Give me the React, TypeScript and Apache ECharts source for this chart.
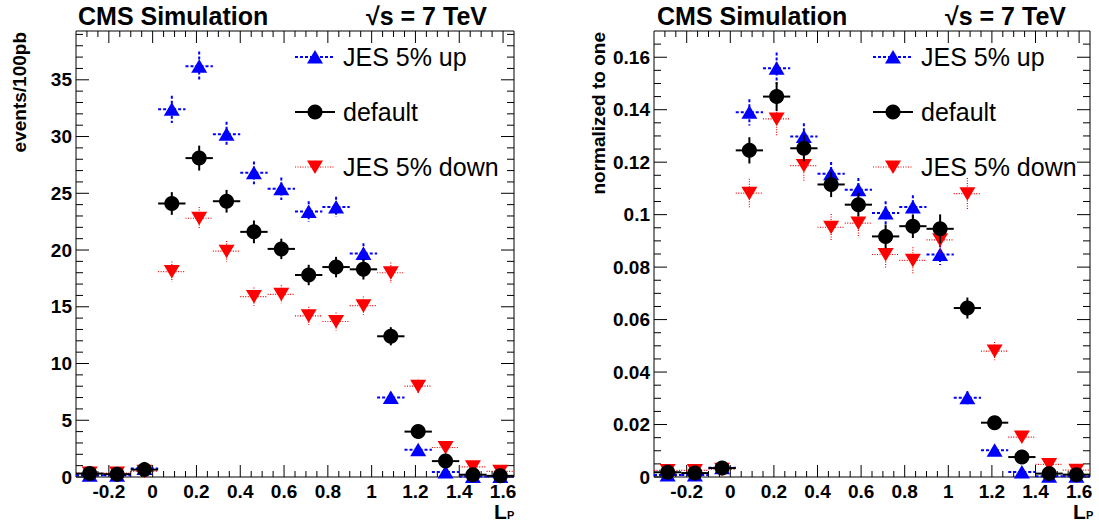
import React, { useEffect, useRef } from "react";
import * as echarts from "echarts";

// ---------- data ----------
const binCenters = [-0.2875, -0.1625, -0.0375, 0.0875, 0.2125, 0.3375, 0.4625, 0.5875, 0.7125, 0.8375, 0.9625, 1.0875, 1.2125, 1.3375, 1.4625, 1.5875];
const binHalfWidth = 0.0625;

// left panel: events / 100 pb
const eventsUp = [0.15, 0.15, 0.75, 32.4, 36.2, 30.2, 26.8, 25.4, 23.4, 23.8, 19.7, 7.0, 2.4, 0.45, 0.05, 0.05];
const eventsUpErr = [0.1, 0.1, 0.3, 1.2, 1.3, 1.1, 1.0, 1.0, 0.9, 0.9, 0.9, 0.5, 0.3, 0.2, 0.05, 0.05];
const eventsDefault = [0.3, 0.25, 0.65, 24.1, 28.1, 24.3, 21.6, 20.1, 17.8, 18.5, 18.3, 12.4, 4.0, 1.4, 0.2, 0.1];
const eventsDefaultErr = [0.2, 0.2, 0.3, 1.0, 1.1, 1.0, 1.0, 0.9, 0.9, 0.9, 0.9, 0.8, 0.4, 0.3, 0.1, 0.1];
const eventsDown = [0.35, 0.35, 0.5, 18.1, 22.8, 19.9, 15.9, 16.1, 14.2, 13.7, 15.1, 18.0, 8.0, 2.6, 0.9, 0.5];
const eventsDownErr = [0.1, 0.1, 0.2, 0.9, 1.0, 0.9, 0.8, 0.8, 0.8, 0.8, 0.8, 0.9, 0.6, 0.3, 0.2, 0.2];

// right panel: normalized to one
const normUp = [0.0008, 0.0008, 0.0035, 0.139, 0.1558, 0.1298, 0.1156, 0.1095, 0.1006, 0.1029, 0.0848, 0.0302, 0.0102, 0.0019, 0.0003, 0.0003];
const normUpErr = [0.0005, 0.0005, 0.001, 0.005, 0.006, 0.005, 0.0045, 0.0045, 0.0045, 0.0045, 0.004, 0.0025, 0.0015, 0.001, 0.0003, 0.0003];
const normDefault = [0.0018, 0.0015, 0.0034, 0.1245, 0.145, 0.1253, 0.1115, 0.1038, 0.0917, 0.0956, 0.0946, 0.0644, 0.0207, 0.0076, 0.0013, 0.0009];
const normDefaultErr = [0.001, 0.001, 0.0015, 0.005, 0.0055, 0.005, 0.0048, 0.0045, 0.0045, 0.0045, 0.0055, 0.004, 0.002, 0.0015, 0.0005, 0.0005];
const normDown = [0.0025, 0.0025, 0.003, 0.1082, 0.1365, 0.1187, 0.0952, 0.0968, 0.0848, 0.0826, 0.0904, 0.108, 0.048, 0.0152, 0.0048, 0.0026];
const normDownErr = [0.001, 0.001, 0.001, 0.0055, 0.0065, 0.006, 0.005, 0.005, 0.005, 0.005, 0.005, 0.006, 0.0035, 0.0015, 0.001, 0.001];

// axes
const xRange = [-0.35, 1.65];
const xTickLabels = ["-0.2", "0", "0.2", "0.4", "0.6", "0.8", "1", "1.2", "1.4", "1.6"];
const xMinorStep = 0.05;
const eventsYRange = [0, 39.3];
const eventsYTickLabels = ["0", "5", "10", "15", "20", "25", "30", "35"];
const eventsYMinorStep = 1;
const normYRange = [0, 0.17];
const normYTickLabels = ["0", "0.02", "0.04", "0.06", "0.08", "0.1", "0.12", "0.14", "0.16"];
const normYMinorStep = 0.005;

const legendLabels = ["JES 5% up", "default", "JES 5% down"];
const yTitles = ["events/100pb", "normalized to one"];

// ---------- styles ----------
const FONT = '"Liberation Sans", Arial, Helvetica, sans-serif';
const STYLES: any = {
  up: { color: "#0000ff", line: { stroke: "#0000ff", lineWidth: 2, lineDash: [3, 2] }, marker: "up" },
  def: { color: "#000000", line: { stroke: "#000000", lineWidth: 2 }, marker: "circle" },
  down: { color: "#ff0000", line: { stroke: "#ff0000", lineWidth: 1.2, lineDash: [1, 1.5] }, marker: "down" },
};

function markerShape(kind: string, cx: number, cy: number, color: string) {
  if (kind === "circle") {
    return { type: "circle", shape: { cx, cy, r: 7.5 }, style: { fill: color } };
  }
  const pts =
    kind === "up"
      ? [[cx - 8, cy + 6.5], [cx + 8, cy + 6.5], [cx, cy - 7]]
      : [[cx - 8, cy - 6.5], [cx + 8, cy - 6.5], [cx, cy + 7]];
  return { type: "polygon", shape: { points: pts }, style: { fill: color } };
}

function pointsSeries(gi: number, values: number[], errs: number[], styleKey: string, yRange: number[]) {
  const st = STYLES[styleKey];
  return {
    type: "custom",
    xAxisIndex: gi,
    yAxisIndex: gi,
    data: binCenters.map((x, i) => [x, values[i], errs[i]]),
    renderItem: (_p: any, api: any) => {
      const x = api.value(0);
      const y = api.value(1);
      const e = api.value(2);
      const lo = Math.max(y - e, yRange[0]);
      const hi = Math.min(y + e, yRange[1]);
      const c = api.coord([x, y]);
      const l = api.coord([Math.max(x - binHalfWidth, xRange[0]), y]);
      const r = api.coord([Math.min(x + binHalfWidth, xRange[1]), y]);
      const t = api.coord([x, hi]);
      const b = api.coord([x, lo]);
      return {
        type: "group",
        children: [
          { type: "line", shape: { x1: l[0], y1: l[1], x2: r[0], y2: r[1] }, style: { ...st.line, fill: null } },
          { type: "line", shape: { x1: t[0], y1: t[1], x2: b[0], y2: b[1] }, style: { ...st.line, fill: null } },
          markerShape(st.marker, c[0], c[1], st.color),
        ],
      };
    },
    z: 3,
  };
}

function axisSeries(gi: number, yRange: number[], yLabels: string[], yMinorStep: number) {
  return {
    type: "custom",
    xAxisIndex: gi,
    yAxisIndex: gi,
    data: [[0, 0]],
    z: 2,
    renderItem: (_p: any, api: any) => {
      const children: any[] = [];
      const tickStyle = { stroke: "#000", lineWidth: 1 };
      const lab = { font: `bold 19px ${FONT}`, fill: "#000" };
      const xMajors = xTickLabels.map(Number);
      const xMinors: number[] = [];
      for (let v = Math.ceil(xRange[0] / xMinorStep) * xMinorStep; v <= xRange[1] + 1e-9; v += xMinorStep) {
        const rv = Math.round(v * 1000) / 1000;
        if (rv <= xRange[0] || rv >= xRange[1]) continue;
        if (!xMajors.some((m) => Math.abs(m - rv) < 1e-6)) xMinors.push(rv);
      }
      const addX = (v: number, len: number) => {
        const b = api.coord([v, yRange[0]]);
        const t = api.coord([v, yRange[1]]);
        children.push({ type: "line", shape: { x1: b[0], y1: b[1], x2: b[0], y2: b[1] - len }, style: tickStyle });
        children.push({ type: "line", shape: { x1: t[0], y1: t[1], x2: t[0], y2: t[1] + len }, style: tickStyle });
      };
      xMajors.forEach((v) => addX(v, 12));
      xMinors.forEach((v) => addX(v, 6));
      xTickLabels.forEach((s) => {
        const p = api.coord([Number(s), yRange[0]]);
        children.push({ type: "text", x: p[0], y: p[1] + 5, style: { ...lab, text: s, textAlign: "center", textVerticalAlign: "top" } });
      });
      const yMajors = yLabels.map(Number);
      const addY = (v: number, len: number) => {
        const l = api.coord([xRange[0], v]);
        const r = api.coord([xRange[1], v]);
        children.push({ type: "line", shape: { x1: l[0], y1: l[1], x2: l[0] + len, y2: l[1] }, style: tickStyle });
        children.push({ type: "line", shape: { x1: r[0], y1: r[1], x2: r[0] - len, y2: r[1] }, style: tickStyle });
      };
      yMajors.forEach((v) => addY(v, 13));
      for (let k = 1; k * yMinorStep < yRange[1]; k++) {
        const v = Math.round(k * yMinorStep * 1e6) / 1e6;
        if (!yMajors.some((m) => Math.abs(m - v) < 1e-9)) addY(v, 7);
      }
      yLabels.forEach((s) => {
        const p = api.coord([xRange[0], Number(s)]);
        children.push({ type: "text", x: p[0] - 4, y: p[1], style: { ...lab, text: s, textAlign: "right", textVerticalAlign: "middle" } });
      });
      return { type: "group", children };
    },
  };
}

function legendGraphics(x0: number) {
  const ys = [57, 112, 167];
  const keys = ["up", "def", "down"];
  const out: any[] = [];
  keys.forEach((k, i) => {
    const st = STYLES[k];
    out.push({ type: "line", shape: { x1: x0, y1: ys[i], x2: x0 + 40, y2: ys[i] }, style: { ...st.line, fill: null }, z: 10 });
    out.push({ ...markerShape(st.marker, x0 + 20, ys[i], st.color), z: 11 });
    out.push({
      type: "text",
      x: x0 + 48,
      y: ys[i],
      style: { text: legendLabels[i], font: `25px ${FONT}`, fill: "#000", textAlign: "left", textVerticalAlign: "middle" },
      z: 11,
    });
  });
  return out;
}

function headerGraphics(titleStart: number, sqrtX: number, yTitleX: number, yTitle: string, lpX: number) {
  return [
    { type: "text", x: titleStart, y: 16, style: { text: "CMS Simulation", font: `bold 25px ${FONT}`, fill: "#000", textAlign: "left", textVerticalAlign: "middle" } },
    { type: "text", x: sqrtX, y: 16, style: { text: "√s = 7 TeV", font: `bold 25px ${FONT}`, fill: "#000", textAlign: "left", textVerticalAlign: "middle" } },
    { type: "text", x: yTitleX, y: 32, rotation: Math.PI / 2, style: { text: yTitle, font: `bold 19px ${FONT}`, fill: "#000", textAlign: "right", textVerticalAlign: "middle" } },
    { type: "text", x: lpX, y: 501, style: { text: "L", font: `bold 21px ${FONT}`, fill: "#000", textAlign: "left", textVerticalAlign: "top" } },
    { type: "text", x: lpX + 13, y: 509, style: { text: "P", font: `bold 11px ${FONT}`, fill: "#000", textAlign: "left", textVerticalAlign: "top" } },
  ];
}

export default function App() {
  const ref = useRef<HTMLDivElement>(null);
  useEffect(() => {
    if (!ref.current) return;
    const chart = echarts.init(ref.current, undefined, { renderer: "svg" });
    const hiddenAxis = { axisLine: { show: false }, axisTick: { show: false }, axisLabel: { show: false }, splitLine: { show: false } };
    chart.setOption({
      animation: false,
      backgroundColor: "#ffffff",
      grid: [
        { left: 76, top: 31, width: 438, height: 446, show: true, borderColor: "#000", borderWidth: 1, backgroundColor: "transparent" },
        { left: 654, top: 31, width: 436, height: 446, show: true, borderColor: "#000", borderWidth: 1, backgroundColor: "transparent" },
      ],
      xAxis: [
        { type: "value", gridIndex: 0, min: xRange[0], max: xRange[1], ...hiddenAxis },
        { type: "value", gridIndex: 1, min: xRange[0], max: xRange[1], ...hiddenAxis },
      ],
      yAxis: [
        { type: "value", gridIndex: 0, min: eventsYRange[0], max: eventsYRange[1], ...hiddenAxis },
        { type: "value", gridIndex: 1, min: normYRange[0], max: normYRange[1], ...hiddenAxis },
      ],
      graphic: [
        ...headerGraphics(78, 366, 19, yTitles[0], 494),
        ...headerGraphics(657, 945, 598, yTitles[1], 1073),
        ...legendGraphics(295),
        ...legendGraphics(873),
      ],
      series: [
        axisSeries(0, eventsYRange, eventsYTickLabels, eventsYMinorStep),
        axisSeries(1, normYRange, normYTickLabels, normYMinorStep),
        pointsSeries(0, eventsUp, eventsUpErr, "up", eventsYRange),
        pointsSeries(0, eventsDown, eventsDownErr, "down", eventsYRange),
        pointsSeries(0, eventsDefault, eventsDefaultErr, "def", eventsYRange),
        pointsSeries(1, normUp, normUpErr, "up", normYRange),
        pointsSeries(1, normDown, normDownErr, "down", normYRange),
        pointsSeries(1, normDefault, normDefaultErr, "def", normYRange),
      ],
    });
    return () => chart.dispose();
  }, []);
  return <div ref={ref} style={{ position: "fixed", left: 0, top: 0, width: 1099, height: 524 }} />;
}
